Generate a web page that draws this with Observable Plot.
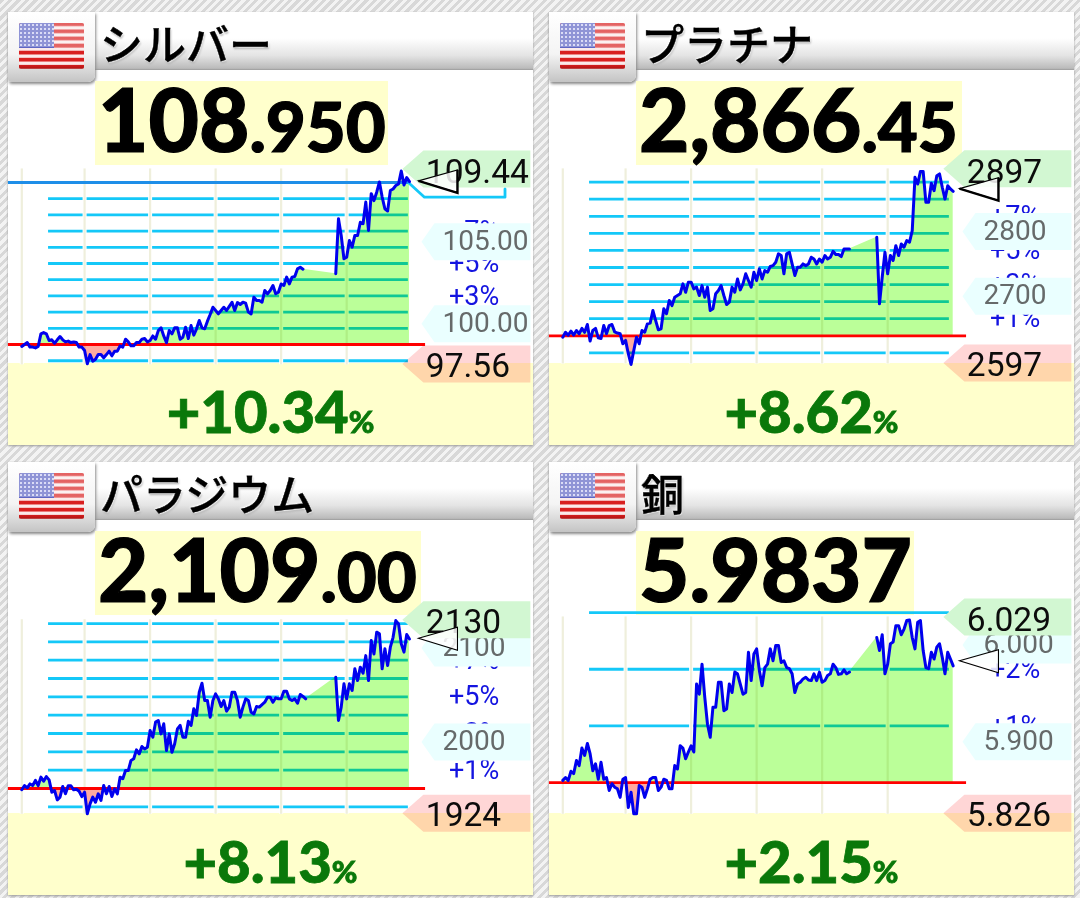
<!DOCTYPE html>
<html lang="ja"><head><meta charset="utf-8">
<script src="https://cdn.jsdelivr.net/npm/d3@7"></script>
<script src="https://cdn.jsdelivr.net/npm/@observablehq/plot@0.6"></script>
<style>
html,body{margin:0;padding:0;width:1080px;height:898px;overflow:hidden}
body{position:relative;background:repeating-linear-gradient(135deg,#d8d8d8 0 3px,#f3f3f3 3px 6px)}
.panel{position:absolute;width:540px;height:450px}
.card{position:absolute;left:8px;top:12px;width:525px;height:433px;background:#fff;box-shadow:0 1px 2px #999}
.head{position:absolute;left:8px;top:12px;width:525px;height:58px;background:linear-gradient(#fff 0,#fff 45%,#e4e4e4 75%,#bbb 97%,#999 100%)}
.tab{position:absolute;left:8px;top:12px;width:87px;height:70px;background:linear-gradient(#fff 0,#f4f4f4 60%,#c4c4c4 100%);border-radius:0 0 7px 3px;box-shadow:1px 2px 3px #8a8a8a}
.flag{position:absolute;left:19px;top:23px;width:65px;height:46px;border-radius:2px;overflow:hidden;
 background:repeating-linear-gradient(#d81f1f 0 2.2px,#e86a6a 3px,#fbeaea 3.8px 6px,#e86a6a 6.6px,#d81f1f 7.08px)}
.flag:before{content:"";position:absolute;left:0;top:0;width:35px;height:25px;background:radial-gradient(circle,#e8e8ff 0 .6px,transparent 1.1px) 0 0/4px 4px,#5f66c4}
.flag:after{content:"";position:absolute;inset:0;background:linear-gradient(rgba(255,255,255,.3) 0 52%,rgba(0,0,0,0) 52% 90%,rgba(120,0,0,.45) 100%)}
.title{position:absolute;left:100px;top:13px;font:500 43px/58px "Noto Sans CJK JP";color:#000;-webkit-text-stroke:.4px #000;text-shadow:1px 1px 2px #fff,-1px -1px 2px #fff,1px 2px 2px #999;white-space:nowrap}
.pricebox{position:absolute;left:95px;top:81px;height:84px;background:#ffffcc;font-family:Lato;font-weight:900;color:#000;line-height:76px;white-space:nowrap;padding-left:3px;box-sizing:border-box;-webkit-text-stroke:1.2px #000}
.pricebox b{font-size:87px;font-weight:900}
.pricebox i{font-size:69px;font-weight:900;font-style:normal}
.band{position:absolute;left:8px;top:363px;width:525px;height:82px;background:#ffffcc}
.chg{position:absolute;left:8px;top:375px;width:525px;text-align:center;font-family:Lato;font-weight:900;color:#0a780a;line-height:72px;white-space:nowrap;-webkit-text-stroke:.8px #0a780a}
.chg b{font-size:58px;font-weight:900}
.chg i{font-size:31px;font-weight:900;font-style:normal}
svg{position:absolute;left:0;top:0;background:transparent;overflow:visible}
</style></head><body>
<script>
// ---- text ----
const titles = ["シルバー", "プラチナ", "パラジウム", "銅"];
const priceMain = ["108", "2,866", "2,109", "5.9837"];
const priceSub = [".950", ".45", ".00", ""];
const priceBoxWidths = [293, 326, 326, 278];
const changeText = ["+10.34", "+8.62", "+8.13", "+2.15"];

// ---- values (price) ----
const lastPrice = [108.95, 2866.45, 2109, 5.9837];
const changePct = [10.34, 8.62, 8.13, 2.15];
const highs = [109.44, 2897, 2130, 6.029];
const lows = [97.56, 2597, 1924, 5.826];
const highText = ["109.44", "2897", "2130", "6.029"];
const lowText = ["97.56", "2597", "1924", "5.826"];
const midPrices = [[105, 100], [2800, 2700], [2100, 2000], [6.0, 5.9]];
const midText = [["105.00", "100.00"], ["2800", "2700"], ["2100", "2000"], ["6.000", "5.900"]];

// ---- percent guides ----
const gridPct = [
  [-1, 1, 2, 3, 4, 5, 6, 7, 8, 9],
  [-1, 1, 2, 3, 4, 5, 6, 7, 8, 9],
  [-1, 1, 2, 3, 4, 5, 6, 7, 8, 9],
  [1, 2, 3]
];
const pctLabels = [[1, 3, 5, 7], [1, 3, 5, 7], [1, 3, 5, 7], [1, 2]];
const arrowPct = [10.1, 8.62, 8.2, 2.15];
const arrowBold = [true, true, false, false];

// ---- intraday series, % change from previous close, 15-min steps ----
const silverA = [-0.12,0,0.12,-0.16,-0.16,-0.21,-0.12,0.66,0.74,0.66,0.25,0.29,0.08,0.29,0.49,0.29,0.16,0.21,0.12,0.16,0.12,-0.16,-0.16,-0.37,-1.19,-0.62,-1.03,-0.91,-0.62,-0.62,-0.82,-0.62,-0.41,-0.70,-0.41,-0.41,-0.08,-0.16,0.33,0.16,-0.08,-0.08,0.12,0.12,0.33,0.37,0.16,0.25,0.53,0.33,0.86,1.03,0.53,0.12,0.86,0.66,1.03,1.03,0.33,0.45,1.07,0.37,1.17,0.58,0.97,1.48,1.03,0.97,1.44,1.85,2.30,2.10,1.89,2.10,2.30,2.10,2.35,2.61,2.10,2.59,2.47,2.61,2.55,2.00,1.89,2.92,2.72,2.72,2.61,3.33,3.13,3.33,3.64,3.13,3.23,3.74,3.64,4.16,3.74,4.16,4.20,4.67,4.77,4.65];
const silverB = [4.37,7.76,6.73,5.29,5.39,6.42,6.01,6.73,6.73,7.55,7.45,8.79,7.04,9.31,8.88,9.40,10.03,9.10,8.38,8.24,9.50,9.60,9.81,9.91,10.71,9.85,10.30,10.05];
const platinumA = [-0.08,0.20,0.04,0.27,0.04,0.31,0.12,0.43,0.20,0.66,-0.31,0.31,0.43,-0.12,-0.16,0.60,0.12,0.60,0.66,0.23,0.16,0.12,-0.47,-0.27,-1.05,-1.68,-0.86,-0.08,-0.47,0.31,0.21,0.70,0.74,1.48,0.90,0.35,0.41,1.58,1.29,2.07,1.77,2.26,2.36,2.46,3.04,2.55,3.14,3.14,2.75,2.85,2.36,2.94,2.26,2.85,1.48,1.58,2.46,2.65,2.94,2.36,1.83,1.97,2.85,2.55,3.33,2.69,3.04,3.63,3.24,2.85,3.72,3.24,3.92,3.33,3.82,3.72,4.06,4.11,4.31,4.80,4.70,3.63,4.80,4.89,4.21,3.53,4.02,4.02,4.21,4.11,4.21,4.60,4.50,4.21,4.50,4.31,4.70,4.50,4.60,4.95,4.76,4.76,4.64,5.09,5.09,5.09];
const platinumB = [5.77,1.87,3.43,4.89,3.63,4.70,4.41,5.28,4.70,5.38,5.19,5.58,5.48,6.16,9.28,8.89,9.63,9.63,7.82,7.82,8.93,8.50,9.38,9.48,8.70,8.01,8.79,8.60,8.46];
const palladiumA = [-0.07,0.16,0.04,0.25,0.16,0.44,0.16,0.62,0.40,0.65,0.47,-0.20,-0.11,-0.62,-0.47,0.11,-0.29,0.15,0.15,-0.07,-0.04,-0.15,-0.44,-0.20,-1.38,-0.84,-0.47,-0.75,-0.29,-0.65,0.16,-0.29,0.11,-0.44,-0.02,-0.29,0.62,0.53,0.98,0.98,1.53,1.62,2.11,1.89,2.29,2.16,2.25,3.16,2.80,3.62,3.71,2.98,3.53,2.07,2.98,1.98,2.44,3.25,3.44,2.80,2.80,3.67,3.44,4.35,3.98,5.25,5.74,4.80,4.80,3.89,4.80,5.16,4.89,4.47,4.80,4.22,4.44,5.25,5.25,4.80,3.89,4.44,4.89,4.80,4.16,4.07,4.47,4.44,4.58,4.71,4.98,4.98,4.71,4.95,4.89,4.89,5.31,5.31,4.89,4.80,4.89,4.65,5.13,5.02,4.89];
const palladiumB = [6.07,3.71,4.44,5.71,4.89,5.71,5.35,6.53,5.89,6.62,6.29,7.25,5.89,8.07,7.34,8.53,8.44,6.53,7.62,6.71,7.71,8.25,9.16,8.98,7.89,7.44,8.40,8.16];
const copperA = [0.04,0.09,0.04,0.20,0.16,0.39,0.30,0.61,0.48,0.69,0.51,0.21,0.33,0.06,0.36,0.06,0.09,-0.14,-0.02,-0.08,-0.11,-0.26,0.06,0.09,-0.44,-0.17,-0.55,-0.55,-0.05,-0.08,-0.26,-0.11,0.06,0.09,0.09,-0.14,-0.08,0.06,0.04,-0.11,-0.11,0.30,0.24,0.65,0.61,0.42,0.54,0.65,0.54,1.74,1.56,2.09,1.51,1.03,0.80,1.33,1.33,1.77,1.77,1.27,1.30,1.74,1.59,1.95,1.92,1.74,1.56,1.59,2.30,1.80,2.27,2.36,1.98,1.71,2.03,2.09,2.36,2.15,2.42,2.42,2.12,2.15,2.03,2.01,1.92,1.59,1.74,1.77,1.83,1.86,1.81,1.80,1.92,1.80,1.95,1.77,1.80,1.89,1.92,2.09,2.03,1.91,1.92,1.99,1.92,1.95];
const copperB = [2.56,2.33,2.61,1.92,2.09,2.45,2.48,2.77,2.77,2.61,2.71,2.86,2.87,2.56,2.36,2.83,2.86,2.33,2.03,2.01,2.30,2.18,2.39,2.45,2.21,1.92,2.30,2.18,2.06];
const seriesA = [silverA, platinumA, palladiumA, copperA];
const seriesB = [silverB, platinumB, palladiumB, copperB];
const sessionBreak = 115;           // index at which the second session resumes
const sessionGrid = [0, 23, 47, 71, 95, 119];
// silver's current-price leader, [index, %]
const silverLeader = [[141.6, 10], [147.5, 9.09], [177, 9.09], [177, 9.6]];

// ---- layout ----
const panelOrigins = [[0, 0], [541, 0], [0, 450], [541, 450]];
const xDomain = [-7.8, 190];
const yDomains = [[-6.54, 21.23], [-6.72, 19.64], [-6.11, 18.44], [-2.08, 5.86]];
const gridFrom = 9.8, gridTo = 141.6, redFrom = -4.9, redTo = 147.9;
const fg = {high: "#0c0c0c", mid: "#666a6a", pct: "#1414e0"};

const pentagon = (w, h, nose) => ({draw(c) {
  c.moveTo(0, 0); c.lineTo(nose, -h / 2); c.lineTo(w, -h / 2); c.lineTo(w, h / 2); c.lineTo(nose, h / 2); c.closePath();
}});
const arrow = {draw(c) { c.moveTo(0, 0); c.lineTo(39, -11); c.lineTo(39, 12); c.closePath(); }};
const arrowEdge = {draw(c) { c.moveTo(39, -11); c.lineTo(39, 12); c.lineTo(0, 0); }};

titles.forEach((title, i) => {
  const panel = document.createElement("div");
  panel.className = "panel";
  panel.style.left = panelOrigins[i][0] + "px";
  panel.style.top = panelOrigins[i][1] + "px";
  panel.innerHTML = `<div class="card"></div><div class="band"></div><div class="head"></div><div class="tab"></div><div class="flag"></div>
    <div class="title">${title}</div>
    <div class="pricebox" style="width:${priceBoxWidths[i]}px"><b>${priceMain[i]}</b><i>${priceSub[i]}</i></div>
    <div class="chg"><b>${changeText[i]}</b><i>%</i></div>`;

  const base = lastPrice[i] / (1 + changePct[i] / 100);
  const pct = p => (p / base - 1) * 100;
  const a = seriesA[i].map((p, t) => ({t, p}));
  const b = seriesB[i].map((p, k) => ({t: sessionBreak + k, p}));
  const all = a.concat(b);
  const hi = pct(highs[i]), lo = pct(lows[i]);
  const mids = midPrices[i].map((m, k) => ({y: pct(m), label: midText[i][k]}));
  const tips = [{y: hi, label: highText[i]}];
  const lowTip = [{y: lo, label: lowText[i]}];

  const marks = [
    Plot.ruleY(gridPct[i], {x1: gridFrom, x2: gridTo, stroke: "#14c8f8", strokeWidth: 2.8}),
    Plot.ruleX(sessionGrid, {y1: lo - 0.005 * (hi - lo), y2: hi, stroke: "#fff", strokeWidth: 4}),
    Plot.ruleX(sessionGrid, {y1: lo - 0.005 * (hi - lo), y2: hi, stroke: "#efefdc", strokeWidth: 2.2}),
    Plot.areaY(all, {x: "t", y1: 0, y2: d => Math.max(d.p, 0), fill: "#bbff99", mixBlendMode: "multiply"}),
    Plot.areaY(all, {x: "t", y1: 0, y2: d => Math.min(d.p, 0), fill: "#ffaaa0", mixBlendMode: "multiply"}),
    i === 0 ? Plot.line(silverLeader, {x: "0", y: "1", stroke: "#14c8f8", strokeWidth: 2.8}) : null,
    i === 0 ? Plot.ruleY([10], {x1: redFrom, x2: gridTo, stroke: "#1e8ee8", strokeWidth: 2.8}) : null,
    Plot.ruleY([0], {x1: redFrom, x2: redTo, stroke: "#ff0000", strokeWidth: 2.8}),
    Plot.text(pctLabels[i], {x: 165.7, y: d => d, text: d => `+${d}%`, fill: fg.pct, fontFamily: "Roboto", fontSize: 27}),
    Plot.dot(mids, {x: 146.4, y: "y", symbol: pentagon(109, 37, 13), fill: "#eaffff"}),
    Plot.text(mids, {x: 154.1, y: "y", dy: -1, text: "label", textAnchor: "start", fill: fg.mid, fontFamily: "Roboto", fontSize: 28}),
    Plot.dot(tips, {x: 139.4, y: "y", symbol: pentagon(128, 37, 21), fill: "#d2f7d2"}),
    Plot.dot(lowTip, {x: 139.4, y: "y", symbol: pentagon(128, 37, 21), fill: "#ffd6d6", mixBlendMode: "multiply"}),
    Plot.line(a, {x: "t", y: "p", stroke: "#0000ee", strokeWidth: 3}),
    Plot.line(b, {x: "t", y: "p", stroke: "#0000ee", strokeWidth: 3}),
    Plot.text(tips, {x: 148, y: "y", dy: 3, text: "label", textAnchor: "start", fill: fg.high, fontFamily: "Roboto", fontSize: 33.5}),
    Plot.text(lowTip, {x: 148, y: "y", dy: 2, text: "label", textAnchor: "start", fill: fg.high, fontFamily: "Roboto", fontSize: 33.5}),
    Plot.dot([arrowPct[i]], {x: 145.3, y: d => d, symbol: arrow, fill: "#fff", fillOpacity: 0.85, stroke: "#000", strokeWidth: 1.1}),
    arrowBold[i] ? Plot.dot([arrowPct[i]], {x: 145.3, y: d => d, symbol: arrowEdge, fill: "none", stroke: "#000", strokeWidth: 2.4}) : null
  ];

  const svg = Plot.plot({
    width: 540, height: 450, margin: 0,
    style: {background: "transparent", overflow: "visible"},
    x: {domain: xDomain, range: [0, 540], axis: null},
    y: {domain: yDomains[i], range: [450, 0], axis: null},
    marks
  });
  panel.appendChild(svg);
  document.body.appendChild(panel);
});
</script>
</body></html>
